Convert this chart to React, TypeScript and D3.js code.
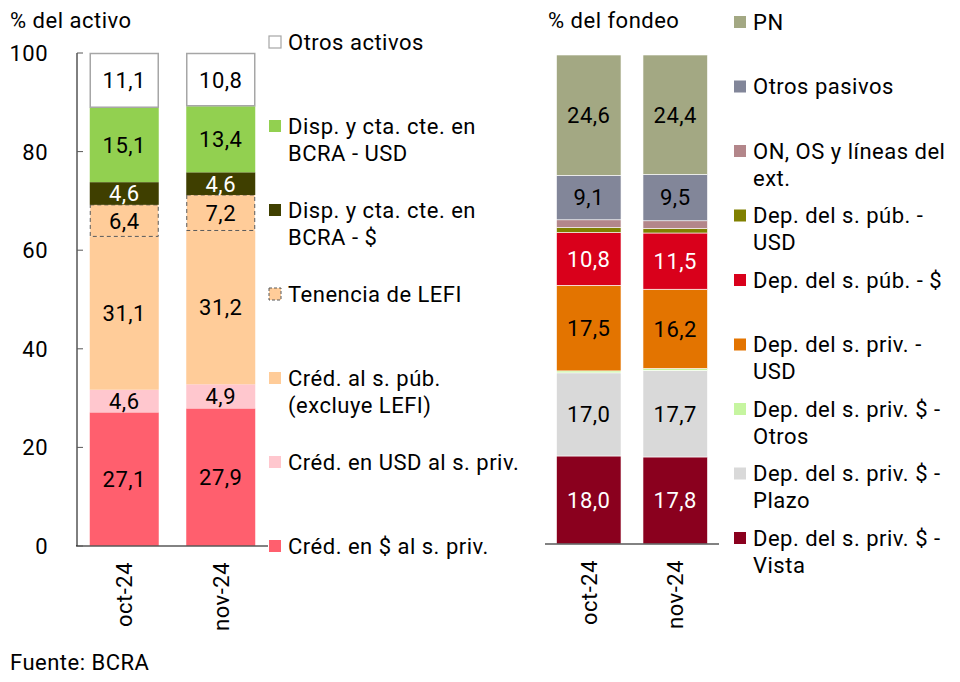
import { useEffect, useRef } from "react";
import * as d3 from "d3";

const months = ["oct-24", "nov-24"];

// Activo (bottom to top)
const assetSeries = [
  "Créd. en $ al s. priv.",
  "Créd. en USD al s. priv.",
  "Créd. al s. púb. (excluye LEFI)",
  "Tenencia de LEFI",
  "Disp. y cta. cte. en BCRA - $",
  "Disp. y cta. cte. en BCRA - USD",
  "Otros activos",
];
const assetOct = [27.1, 4.6, 31.1, 6.4, 4.6, 15.1, 11.1];
const assetNov = [27.9, 4.9, 31.2, 7.2, 4.6, 13.4, 10.8];
const assetColors = ["#FF5F6E", "#FFC7CE", "#FFCC99", "#FFCC99", "#3F3F00", "#92D050", "#FFFFFF"];
const assetLabelColors = ["#000", "#000", "#000", "#000", "#fff", "#000", "#000"];
const assetShowLabel = [true, true, true, true, true, true, true];
// legend text top -> bottom
const assetLegend = [
  ["Otros activos"],
  ["Disp. y cta. cte. en", "BCRA - USD"],
  ["Disp. y cta. cte. en", "BCRA - $"],
  ["Tenencia de LEFI"],
  ["Créd. al s. púb.", "(excluye LEFI)"],
  ["Créd. en USD al s. priv."],
  ["Créd. en $ al s. priv."],
];

// Fondeo (bottom to top)
const fundSeries = [
  "Dep. del s. priv. $ - Vista",
  "Dep. del s. priv. $ - Plazo",
  "Dep. del s. priv. $ - Otros",
  "Dep. del s. priv. - USD",
  "Dep. del s. púb. - $",
  "Dep. del s. púb. - USD",
  "ON, OS y líneas del ext.",
  "Otros pasivos",
  "PN",
];
const fundOct = [18.0, 17.0, 0.4, 17.5, 10.8, 1.0, 1.6, 9.1, 24.6];
const fundNov = [17.8, 17.7, 0.4, 16.2, 11.5, 0.9, 1.6, 9.5, 24.4];
const fundColors = ["#8A001E", "#D9D9D9", "#C6F5A0", "#E37400", "#D9001B", "#808000", "#B3868A", "#828699", "#A3A883"];
const fundLabelColors = ["#fff", "#000", "#000", "#000", "#fff", "#000", "#000", "#000", "#000"];
const fundShowLabel = [true, true, false, true, true, false, false, true, true];
const fundLegend = [
  ["PN"],
  ["Otros pasivos"],
  ["ON, OS y líneas del", "ext."],
  ["Dep. del s. púb. -", "USD"],
  ["Dep. del s. púb. - $"],
  ["Dep. del s. priv. -", "USD"],
  ["Dep. del s. priv. $ -", "Otros"],
  ["Dep. del s. priv. $ -", "Plazo"],
  ["Dep. del s. priv. $ -", "Vista"],
];

const yTicks = [0, 20, 40, 60, 80, 100];

const FONT = "Roboto, 'Noto Sans', sans-serif";
const FS = 22;
const fmt = (v: number) => v.toFixed(1).replace(".", ",");

type Row = { month: string; [k: string]: number | string };

function buildRows(series: string[], vals: number[][]): Row[] {
  return months.map((m, mi) => {
    const r: Row = { month: m };
    series.forEach((s, i) => (r[s] = vals[mi][i]));
    return r;
  });
}

const App = () => {
  const ref = useRef<SVGSVGElement>(null);

  useEffect(() => {
    if (!ref.current) return;
    const svg = d3.select(ref.current);
    svg.selectAll("*").remove();
    svg.style("font-family", FONT).style("letter-spacing", "0.5px");

    const drawPanel = (opts: {
      series: string[];
      vals: number[][];
      colors: string[];
      labelColors: string[];
      showLabel: boolean[];
      legend: string[][];
      legendColors: string[];
      xRange: [number, number];
      padInner: number;
      padOuter: number;
      yRange: [number, number];
      baseX: [number, number];
      legendX: number;
      legendY0: number;
      legendStep: number;
      title: string;
      titleX: number;
      isAsset: boolean;
    }) => {
      const x = d3
        .scaleBand<string>()
        .domain(months)
        .range(opts.xRange)
        .paddingInner(opts.padInner)
        .paddingOuter(opts.padOuter);
      const y = d3.scaleLinear().domain([0, 100]).range(opts.yRange);

      const rows = buildRows(opts.series, opts.vals);
      const stacked = d3.stack<Row>().keys(opts.series)(rows as any);

      const g = svg.append("g");
      stacked.forEach((layer, li) => {
        const name = opts.series[li];
        const isLefi = name === "Tenencia de LEFI";
        const isOtros = name === "Otros activos";
        layer.forEach((d) => {
          const m = (d.data as any).month as string;
          const x0 = x(m)!;
          const top = y(d[1]);
          const h = y(d[0]) - y(d[1]);
          const rect = g
            .append("rect")
            .attr("x", x0)
            .attr("y", top)
            .attr("width", x.bandwidth())
            .attr("height", h)
            .attr("fill", opts.colors[li]);
          if (isOtros) {
            rect.attr("x", x0 + 0.5).attr("width", x.bandwidth() - 1).attr("y", top + 0.5).attr("height", h - 1)
              .attr("stroke", "#A6A6A6").attr("stroke-width", 1.5);
          } else if (isLefi) {
            rect.attr("x", x0 + 0.5).attr("width", x.bandwidth() - 1)
              .attr("stroke", "#595959").attr("stroke-width", 1).attr("stroke-dasharray", "4,3");
          } else if (!opts.isAsset) {
            rect.attr("stroke", "#fff").attr("stroke-width", 0.6);
          }
          if (opts.showLabel[li]) {
            g.append("text")
              .attr("x", x0 + x.bandwidth() / 2)
              .attr("y", (y(d[0]) + y(d[1])) / 2)
              .attr("dy", "0.36em")
              .attr("text-anchor", "middle")
              .attr("font-size", FS)
              .attr("fill", opts.labelColors[li])
              .text(fmt(d[1] - d[0]));
          }
        });
      });

      // baseline
      g.append("line")
        .attr("x1", opts.baseX[0])
        .attr("x2", opts.baseX[1])
        .attr("y1", y(0))
        .attr("y2", y(0))
        .attr("stroke", "#595959")
        .attr("stroke-width", 1.5);

      // x labels, rotated
      months.forEach((m) => {
        g.append("text")
          .attr("transform", `translate(${x(m)! + x.bandwidth() / 2},${y(0) + 16}) rotate(-90)`)
          .attr("text-anchor", "end")
          .attr("dy", "0.36em")
          .attr("font-size", FS)
          .attr("fill", "#000")
          .text(m);
      });

      // legend
      const lg = svg.append("g");
      opts.legend.forEach((lines, i) => {
        const cy = opts.legendY0 + i * opts.legendStep;
        const col = opts.legendColors[i];
        const r = lg
          .append("rect")
          .attr("x", opts.legendX)
          .attr("y", cy - 6)
          .attr("width", 12)
          .attr("height", 12)
          .attr("fill", col);
        if (lines[0] === "Otros activos") r.attr("stroke", "#A6A6A6").attr("stroke-width", 1.2);
        if (lines[0] === "Tenencia de LEFI")
          r.attr("stroke", "#595959").attr("stroke-width", 1).attr("stroke-dasharray", "3,2");
        const t = lg
          .append("text")
          .attr("x", opts.legendX + 19)
          .attr("y", cy)
          .attr("font-size", FS)
          .attr("fill", "#000");
        lines.forEach((ln, k) => {
          t.append("tspan")
            .attr("x", opts.legendX + 19)
            .attr("dy", k === 0 ? "0.36em" : "27")
            .text(ln);
        });
      });

      svg
        .append("text")
        .attr("x", opts.titleX)
        .attr("y", 20)
        .attr("dy", "0.36em")
        .attr("font-size", FS)
        .attr("fill", "#000")
        .text(opts.title);

      return y;
    };

    const yLeft = drawPanel({
      series: assetSeries,
      vals: [assetOct, assetNov],
      colors: assetColors,
      labelColors: assetLabelColors,
      showLabel: assetShowLabel,
      legend: assetLegend,
      legendColors: [...assetColors].reverse(),
      xRange: [76, 269],
      padInner: 0.285,
      padOuter: 0.1425,
      yRange: [546, 53],
      baseX: [76, 268],
      legendX: 269,
      legendY0: 42,
      legendStep: 84,
      title: "% del activo",
      titleX: 10,
      isAsset: true,
    });

    // left y axis
    const ax = svg.append("g");
    ax.append("line")
      .attr("x1", 77)
      .attr("x2", 77)
      .attr("y1", yLeft(100))
      .attr("y2", yLeft(0))
      .attr("stroke", "#000")
      .attr("stroke-width", 1);
    yTicks.forEach((t) => {
      ax.append("line")
        .attr("x1", 77)
        .attr("x2", 83)
        .attr("y1", yLeft(t))
        .attr("y2", yLeft(t))
        .attr("stroke", "#595959")
        .attr("stroke-width", 1);
      ax.append("text")
        .attr("x", 48)
        .attr("y", yLeft(t))
        .attr("dy", "0.36em")
        .attr("text-anchor", "end")
        .attr("font-size", FS)
        .attr("fill", "#000")
        .text(t);
    });

    drawPanel({
      series: fundSeries,
      vals: [fundOct, fundNov],
      colors: fundColors,
      labelColors: fundLabelColors,
      showLabel: fundShowLabel,
      legend: fundLegend,
      legendColors: [...fundColors].reverse(),
      xRange: [545, 719],
      padInner: 0.254,
      padOuter: 0.133,
      yRange: [544, 55],
      baseX: [545, 719],
      legendX: 734,
      legendY0: 22,
      legendStep: 64.5,
      title: "% del fondeo",
      titleX: 548,
      isAsset: false,
    });

    svg
      .append("text")
      .attr("x", 10)
      .attr("y", 662)
      .attr("dy", "0.36em")
      .attr("font-size", FS)
      .attr("fill", "#000")
      .text("Fuente: BCRA");
  }, []);

  return (
    <svg
      ref={ref}
      width={960}
      height={682}
      style={{ position: "absolute", left: 0, top: 0, background: "#fff" }}
    />
  );
};

export default App;
